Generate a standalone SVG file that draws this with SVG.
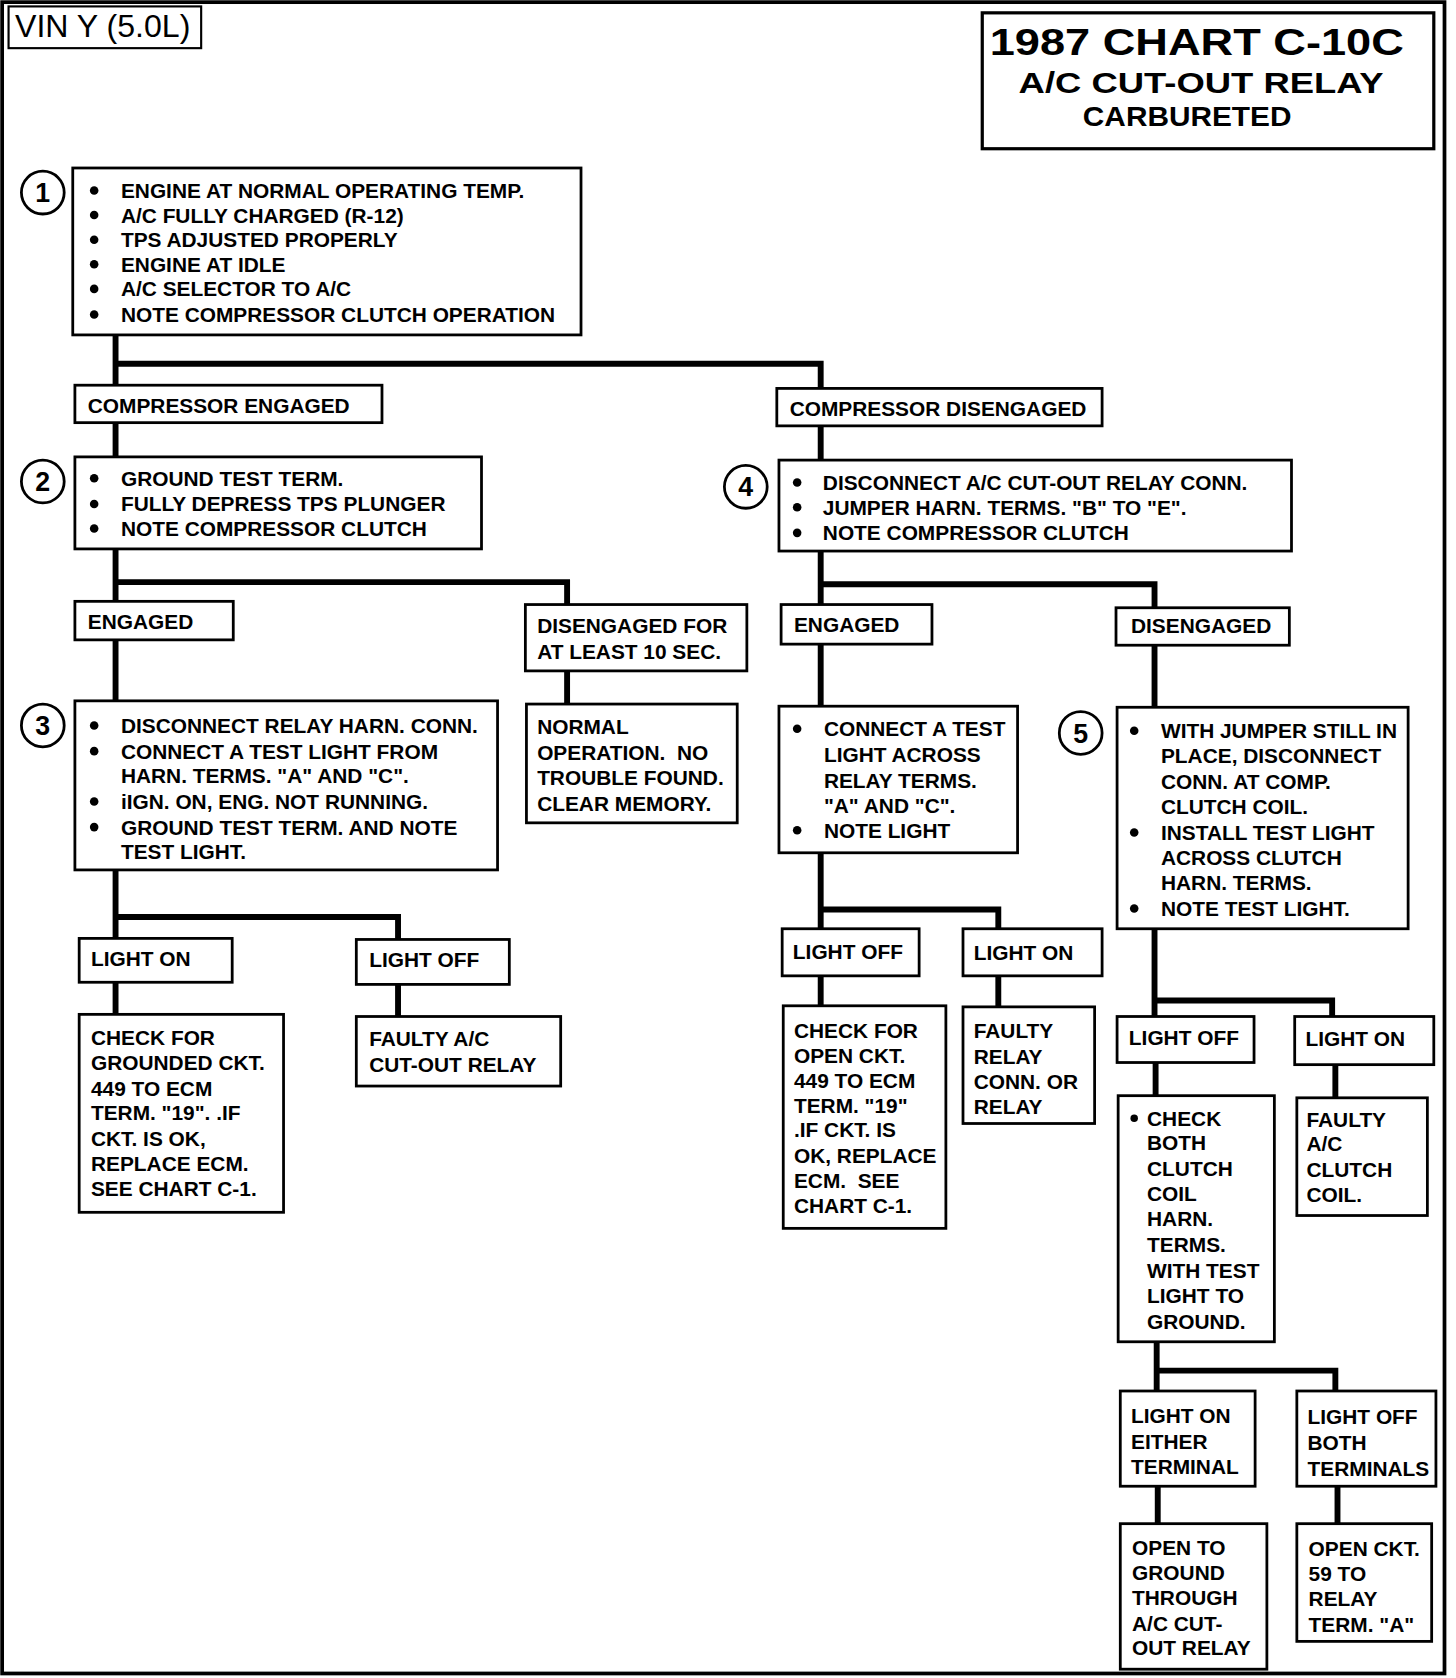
<svg xmlns="http://www.w3.org/2000/svg" width="1456" height="1678" viewBox="0 0 1456 1678">
<style>
.bx{fill:#fff;stroke:#000;stroke-width:2.6}
.cn{fill:none;stroke:#000;stroke-width:5.5;stroke-linejoin:miter}
.t{font-family:"Liberation Sans",Arial,sans-serif;font-weight:bold;font-size:19.5px;fill:#000;white-space:pre}
.n{font-family:"Liberation Sans",Arial,sans-serif;font-weight:bold;font-size:25px;fill:#000;text-anchor:middle}
.c{fill:#fff;stroke:#000;stroke-width:2.6}
.b{fill:#000}
</style>
<rect x="0" y="0" width="1456" height="1678" fill="#fff"/>
<g transform="scale(1.07)">
<rect x="2" y="2" width="1348" height="1562" fill="none" stroke="#000" stroke-width="3.5"/>
<g id="vin"><rect x="8" y="6" width="180" height="39" fill="#fff" stroke="#000" stroke-width="2"/>
<text x="14" y="35" style="font-family:'Liberation Sans',Arial,sans-serif;font-size:30px">VIN Y (5.0L)</text></g>
<g id="title"><rect x="918" y="12" width="422" height="127" fill="#fff" stroke="#000" stroke-width="3"/>
<text x="925" y="51" class="t" style="font-size:35px" textLength="387" lengthAdjust="spacingAndGlyphs">1987 CHART C-10C</text>
<text x="952" y="87" class="t" style="font-size:28px" textLength="341" lengthAdjust="spacingAndGlyphs">A/C CUT-OUT RELAY</text>
<text x="1012" y="118" class="t" style="font-size:25px" textLength="195" lengthAdjust="spacingAndGlyphs">CARBURETED</text></g>

<g id="connectors">
<path class="cn" d="M108,313V360M108,340H767V363M108,395V427M767,398V430M108,513V562M108,544H530V565M530,627V658M108,598V655M108,813V877M108,857H372V878M108,918V948M372,920V950M767,515V565M767,546H1079V568M767,602V660M1079,603V661M767,797V868M767,850H933V868M767,912V940M933,912V941M1079,868V950M1079,935H1245V950M1080,993V1024M1248,995V1026M1081,1254V1300M1081,1281H1248V1300M1082,1389V1424M1250,1389V1424"/>
</g>

<g id="step1"><circle class="c" cx="40" cy="180" r="20"/><text class="n" x="40" y="189">1</text>
<rect class="bx" x="68" y="157" width="475" height="156"/>
<circle class="b" cx="88" cy="178" r="4"/><text class="t" x="113" y="185">ENGINE AT NORMAL OPERATING TEMP.</text>
<circle class="b" cx="88" cy="201" r="4"/><text class="t" x="113" y="208">A/C FULLY CHARGED (R-12)</text>
<circle class="b" cx="88" cy="224" r="4"/><text class="t" x="113" y="231">TPS ADJUSTED PROPERLY</text>
<circle class="b" cx="88" cy="247" r="4"/><text class="t" x="113" y="254">ENGINE AT IDLE</text>
<circle class="b" cx="88" cy="270" r="4"/><text class="t" x="113" y="277">A/C SELECTOR TO A/C</text>
<circle class="b" cx="88" cy="294" r="4"/><text class="t" x="113" y="301">NOTE COMPRESSOR CLUTCH OPERATION</text></g>

<g id="comp-engaged"><rect class="bx" x="70" y="360" width="287" height="35"/><text class="t" x="82" y="386">COMPRESSOR ENGAGED</text></g>
<g id="comp-disengaged"><rect class="bx" x="726" y="363" width="304" height="35"/><text class="t" x="738" y="389">COMPRESSOR DISENGAGED</text></g>

<g id="step2"><circle class="c" cx="40" cy="450" r="20"/><text class="n" x="40" y="459">2</text>
<rect class="bx" x="70" y="427" width="380" height="86"/>
<circle class="b" cx="88" cy="447" r="4"/><text class="t" x="113" y="454">GROUND TEST TERM.</text>
<circle class="b" cx="88" cy="471" r="4"/><text class="t" x="113" y="478">FULLY DEPRESS TPS PLUNGER</text>
<circle class="b" cx="88" cy="494" r="4"/><text class="t" x="113" y="501">NOTE COMPRESSOR CLUTCH</text></g>

<g id="engaged2"><rect class="bx" x="70" y="562" width="148" height="36"/><text class="t" x="82" y="588">ENGAGED</text></g>
<g id="disengaged10"><rect class="bx" x="491" y="565" width="207" height="62"/><text class="t" x="502" y="592">DISENGAGED FOR</text><text class="t" x="502" y="616">AT LEAST 10 SEC.</text></g>
<g id="normal"><rect class="bx" x="492" y="658" width="197" height="111"/>
<text class="t" x="502" y="686">NORMAL</text><text class="t" x="502" y="710" xml:space="preserve">OPERATION.  NO</text><text class="t" x="502" y="734">TROUBLE FOUND.</text><text class="t" x="502" y="758">CLEAR MEMORY.</text></g>

<g id="step3"><circle class="c" cx="40" cy="678" r="20"/><text class="n" x="40" y="687">3</text>
<rect class="bx" x="70" y="655" width="395" height="158"/>
<circle class="b" cx="88" cy="678" r="4"/><text class="t" x="113" y="685">DISCONNECT RELAY HARN. CONN.</text>
<circle class="b" cx="88" cy="702" r="4"/><text class="t" x="113" y="709">CONNECT A TEST LIGHT FROM</text>
<text class="t" x="113" y="732">HARN. TERMS. "A" AND "C".</text>
<circle class="b" cx="88" cy="749" r="4"/><text class="t" x="113" y="756">iIGN. ON, ENG. NOT RUNNING.</text>
<circle class="b" cx="88" cy="773" r="4"/><text class="t" x="113" y="780">GROUND TEST TERM. AND NOTE</text>
<text class="t" x="113" y="803">TEST LIGHT.</text></g>

<g id="lighton3"><rect class="bx" x="74" y="877" width="143" height="41"/><text class="t" x="85" y="903">LIGHT ON</text></g>
<g id="lightoff3"><rect class="bx" x="333" y="878" width="143" height="42"/><text class="t" x="345" y="904">LIGHT OFF</text></g>
<g id="grounded"><rect class="bx" x="74" y="948" width="191" height="185"/>
<text class="t" x="85" y="977">CHECK FOR</text><text class="t" x="85" y="1000">GROUNDED CKT.</text><text class="t" x="85" y="1024">449 TO ECM</text><text class="t" x="85" y="1047">TERM. "19". .IF</text><text class="t" x="85" y="1071">CKT. IS OK,</text><text class="t" x="85" y="1094">REPLACE ECM.</text><text class="t" x="85" y="1118">SEE CHART C-1.</text></g>
<g id="faultyrelay"><rect class="bx" x="333" y="950" width="191" height="65"/><text class="t" x="345" y="978">FAULTY A/C</text><text class="t" x="345" y="1002">CUT-OUT RELAY</text></g>

<g id="step4"><circle class="c" cx="697" cy="455" r="20"/><text class="n" x="697" y="464">4</text>
<rect class="bx" x="728" y="430" width="479" height="85"/>
<circle class="b" cx="745" cy="451" r="4"/><text class="t" x="769" y="458">DISCONNECT A/C CUT-OUT RELAY CONN.</text>
<circle class="b" cx="745" cy="474" r="4"/><text class="t" x="769" y="481">JUMPER HARN. TERMS. "B" TO "E".</text>
<circle class="b" cx="745" cy="498" r="4"/><text class="t" x="769" y="505">NOTE COMPRESSOR CLUTCH</text></g>

<g id="engaged4"><rect class="bx" x="730" y="565" width="141" height="37"/><text class="t" x="742" y="591">ENGAGED</text></g>
<g id="disengaged4"><rect class="bx" x="1043" y="568" width="162" height="35"/><text class="t" x="1057" y="592">DISENGAGED</text></g>

<g id="connecttest"><rect class="bx" x="728" y="660" width="223" height="137"/>
<circle class="b" cx="745" cy="681" r="4"/><text class="t" x="770" y="688">CONNECT A TEST</text>
<text class="t" x="770" y="712">LIGHT ACROSS</text><text class="t" x="770" y="736">RELAY TERMS.</text><text class="t" x="770" y="760">"A" AND "C".</text>
<circle class="b" cx="745" cy="776" r="4"/><text class="t" x="770" y="783">NOTE LIGHT</text></g>

<g id="step5"><circle class="c" cx="1010" cy="685" r="20"/><text class="n" x="1010" y="694">5</text>
<rect class="bx" x="1044" y="661" width="272" height="207"/>
<circle class="b" cx="1060" cy="683" r="4"/><text class="t" x="1085" y="690">WITH JUMPER STILL IN</text>
<text class="t" x="1085" y="713">PLACE, DISCONNECT</text><text class="t" x="1085" y="737">CONN. AT COMP.</text><text class="t" x="1085" y="761">CLUTCH COIL.</text>
<circle class="b" cx="1060" cy="778" r="4"/><text class="t" x="1085" y="785">INSTALL TEST LIGHT</text>
<text class="t" x="1085" y="808">ACROSS CLUTCH</text><text class="t" x="1085" y="832">HARN. TERMS.</text>
<circle class="b" cx="1060" cy="849" r="4"/><text class="t" x="1085" y="856">NOTE TEST LIGHT.</text></g>

<g id="lightoff4"><rect class="bx" x="731" y="868" width="128" height="44"/><text class="t" x="741" y="896">LIGHT OFF</text></g>
<g id="lighton4"><rect class="bx" x="900" y="868" width="130" height="44"/><text class="t" x="910" y="897">LIGHT ON</text></g>
<g id="opencheck"><rect class="bx" x="732" y="940" width="152" height="208"/>
<text class="t" x="742" y="970">CHECK FOR</text><text class="t" x="742" y="993">OPEN CKT.</text><text class="t" x="742" y="1017">449 TO ECM</text><text class="t" x="742" y="1040">TERM. "19"</text><text class="t" x="742" y="1063">.IF CKT. IS</text><text class="t" x="742" y="1087">OK, REPLACE</text><text class="t" x="742" y="1110" xml:space="preserve">ECM.  SEE</text><text class="t" x="742" y="1134">CHART C-1.</text></g>
<g id="faultyconn"><rect class="bx" x="900" y="941" width="123" height="109"/>
<text class="t" x="910" y="970">FAULTY</text><text class="t" x="910" y="994">RELAY</text><text class="t" x="910" y="1018">CONN. OR</text><text class="t" x="910" y="1041">RELAY</text></g>

<g id="lightoff5"><rect class="bx" x="1044" y="950" width="128" height="43"/><text class="t" x="1055" y="977">LIGHT OFF</text></g>
<g id="lighton5"><rect class="bx" x="1210" y="950" width="130" height="45"/><text class="t" x="1220" y="978">LIGHT ON</text></g>
<g id="checkboth"><rect class="bx" x="1045" y="1024" width="146" height="230"/>
<circle class="b" cx="1060" cy="1045" r="3.5"/><text class="t" x="1072" y="1052">CHECK</text>
<text class="t" x="1072" y="1075">BOTH</text><text class="t" x="1072" y="1099">CLUTCH</text><text class="t" x="1072" y="1122">COIL</text><text class="t" x="1072" y="1146">HARN.</text><text class="t" x="1072" y="1170">TERMS.</text><text class="t" x="1072" y="1194">WITH TEST</text><text class="t" x="1072" y="1218">LIGHT TO</text><text class="t" x="1072" y="1242">GROUND.</text></g>
<g id="faultycoil"><rect class="bx" x="1212" y="1026" width="122" height="110"/>
<text class="t" x="1221" y="1053">FAULTY</text><text class="t" x="1221" y="1076">A/C</text><text class="t" x="1221" y="1100">CLUTCH</text><text class="t" x="1221" y="1123">COIL.</text></g>

<g id="lightoneither"><rect class="bx" x="1047" y="1300" width="126" height="89"/>
<text class="t" x="1057" y="1330">LIGHT ON</text><text class="t" x="1057" y="1354">EITHER</text><text class="t" x="1057" y="1378">TERMINAL</text></g>
<g id="lightoffboth"><rect class="bx" x="1212" y="1300" width="130" height="89"/>
<text class="t" x="1222" y="1331">LIGHT OFF</text><text class="t" x="1222" y="1355">BOTH</text><text class="t" x="1222" y="1379">TERMINALS</text></g>
<g id="opentoground"><rect class="bx" x="1047" y="1424" width="137" height="136"/>
<text class="t" x="1058" y="1453">OPEN TO</text><text class="t" x="1058" y="1477">GROUND</text><text class="t" x="1058" y="1500">THROUGH</text><text class="t" x="1058" y="1524">A/C CUT-</text><text class="t" x="1058" y="1547">OUT RELAY</text></g>
<g id="openckt59"><rect class="bx" x="1212" y="1424" width="126" height="110"/>
<text class="t" x="1223" y="1454">OPEN CKT.</text><text class="t" x="1223" y="1478">59 TO</text><text class="t" x="1223" y="1501">RELAY</text><text class="t" x="1223" y="1525">TERM. "A"</text></g>
</g>
</svg>
